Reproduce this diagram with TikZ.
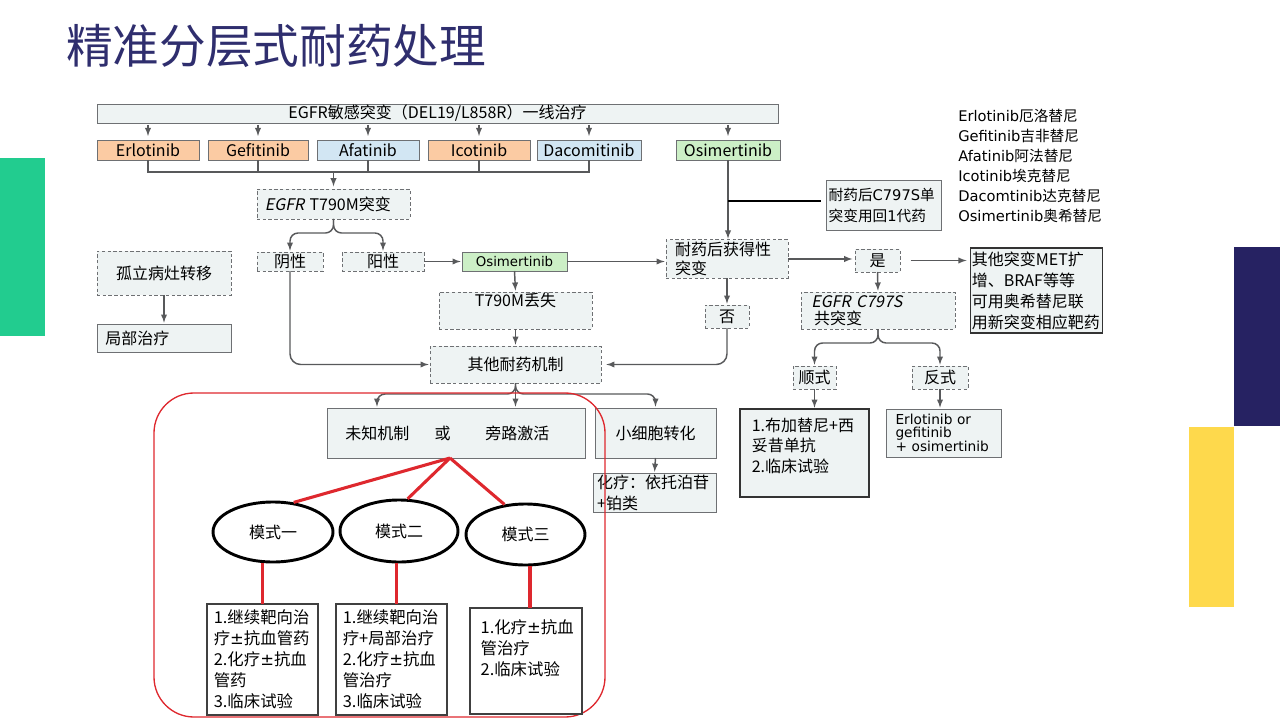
\documentclass[tikz,border=0pt]{standalone}
\usepackage{fontspec}
\setmainfont[AutoFakeSlant=0.2]{Noto Sans CJK SC}
\newfontfamily\dvfont{DejaVu Sans}
\newcommand{\plmi}{{\dvfont ±}}
\usetikzlibrary{arrows,shapes.geometric}

\definecolor{boxgray}{RGB}{238,243,243}
\definecolor{boxline}{RGB}{110,112,115}
\definecolor{linec}{RGB}{88,89,91}
\definecolor{drugorange}{RGB}{251,203,163}
\definecolor{drugblue}{RGB}{210,230,243}
\definecolor{druggreen}{RGB}{204,239,198}
\definecolor{markred}{RGB}{222,40,46}
\definecolor{titlenavy}{RGB}{47,46,110}
\definecolor{barnavy}{RGB}{38,34,98}
\definecolor{bargreen}{RGB}{34,204,143}
\definecolor{baryellow}{RGB}{254,217,76}

\begin{document}
\begin{tikzpicture}[x=0.75pt,y=-0.75pt,
    bsize/.style 2 args={minimum width=#1*0.75pt,minimum height=#2*0.75pt},
    base/.style={rectangle,inner sep=1.5pt,outer sep=0pt,font=\fontsize{12}{15.75}\selectfont},
    sbox/.style={base,draw=boxline,fill=boxgray,line width=0.6pt},
    dbox/.style={base,draw=boxline,fill=boxgray,line width=0.7pt,dash pattern=on 2.5pt off 1.8pt},
    drug/.style={sbox,fill=#1,inner sep=0.5pt},
    kbox/.style={base,draw=black!80,fill=boxgray,line width=1pt},
    wbox/.style={base,draw=black!75,fill=white,line width=0.8pt,font=\fontsize{12.3}{15.75}\selectfont},
    mode/.style={ellipse,draw=black,line width=2.2pt,fill=white,inner sep=0pt,font=\fontsize{12}{14}\selectfont},
    conn/.style={draw=linec,line width=1.1pt},
    arr/.style={conn,-latex,shorten >=1pt},
    redl/.style={draw=markred,line width=2.3pt}]
  \useasboundingbox (0,0) rectangle (1280,720);

  % side bars and title
  \fill[bargreen] (0,158) rectangle (45,336);
  \fill[barnavy] (1234,247) rectangle (1280,426);
  \fill[baryellow] (1189,427) rectangle (1234,607);
  \node[anchor=west,text=titlenavy,font=\fontsize{35}{38}\selectfont,inner sep=0pt] (title) at (66,46) {精准分层式耐药处理};

  % first line
  \node[sbox,bsize={681}{19},inner sep=0.5pt] (first) at (437.5,113.5) {EGFR敏感突变（DEL19/L858R）一线治疗};
  \node[drug=drugorange,bsize={102}{20}] (erl) at (148,150) {Erlotinib};
  \node[drug=drugorange,bsize={100}{20}] (gef) at (258,150) {Gefitinib};
  \node[drug=drugblue,bsize={102}{20}] (afa) at (368,150) {Afatinib};
  \node[drug=drugorange,bsize={102}{20}] (ico) at (479,150) {Icotinib};
  \node[drug=drugblue,bsize={104}{20}] (dac) at (589,150) {Dacomitinib};
  \node[drug=druggreen,bsize={104}{20}] (osi) at (728,150) {Osimertinib};
  \foreach \d in {erl,gef,afa,ico,dac,osi}
    \draw[arr] ([yshift=-1.5pt]first.south -| \d.north) -- ([yshift=2pt]\d.north);
  \draw[conn] (erl.south) -- ++(0,12) -| (dac.south);
  \foreach \d in {gef,afa,ico}
    \draw[conn] (\d.south) -- ++(0,12);

  % T790M branch
  \node[dbox,bsize={153}{30},text width=103pt,align=left] (t790) at (333.5,204) {\textit{EGFR} T790M突变};
  \draw[arr,shorten >=2pt] (t790.north |- erl.south) ++(0,12) -- (t790.north);
  \node[dbox,bsize={66}{19}] (yin) at (290,261.5) {阴性};
  \node[dbox,bsize={82}{19}] (yang) at (383,261.5) {阳性};
  \draw[arr,rounded corners=6pt] (t790.south) -- ++(0,14) -| (yin.north);
  \draw[arr,rounded corners=6pt] (t790.south) -- ++(0,14) -| (yang.north);

  \node[dbox,bsize={134}{44}] (iso) at (164,273) {孤立病灶转移};
  \node[sbox,bsize={134}{28},text width=88pt,align=left] (local) at (164,338) {局部治疗};
  \draw[arr] (iso.south) -- (local.north);

  \node[drug=druggreen,bsize={105}{19},font=\dvfont\fontsize{10}{12}\selectfont] (osi2) at (514.5,261.5) {Osimertinib};
  \draw[arr] (yang.east) -- (osi2.west);
  \node[dbox,bsize={153}{37},text height=9pt,text depth=15.75pt] (loss) at (515.5,310.5) {T790M丢失};
  \draw[arr] (osi2.south) -- (loss.north);
  \node[dbox,bsize={171}{37}] (other) at (515.5,364.5) {其他耐药机制};
  \draw[arr] (loss.south) -- (other.north);
  \draw[arr,rounded corners=8pt] (yin.south) |- (other.west);

  % after osimertinib
  \node[dbox,bsize={122}{38},text width=78pt,align=left,font=\fontsize{12}{14.5}\selectfont] (acq) at (727,259) {耐药后获得性\\突变};
  \draw[arr] (osi2.east) -- (osi2.east -| acq.west);
  \draw[arr] (osi.south) -- (osi.south |- acq.north);
  \node[sbox,bsize={114}{50},text width=83pt,align=left,font=\fontsize{11}{15.75}\selectfont] (single) at (884,205) {耐药后{\dvfont C797S}单\\突变用回{\dvfont 1}代药};
  \draw[black,line width=2pt,shorten >=4pt] ([yshift=3pt]osi.south |- single.west) -- ([yshift=3pt]single.west);

  \node[dbox,bsize={44}{23}] (no) at (727,316.5) {否};
  \draw[arr] (acq.south) -- (no.north);
  \draw[arr,rounded corners=8pt,shorten >=4pt] (no.south) |- (other.east);

  \node[dbox,bsize={45}{23}] (yes) at (877.5,260.5) {是};
  \draw[arr,shorten >=2pt] (acq.east) -- (acq.east -| yes.west);
  \node[kbox,bsize={131}{85},text width=97pt,align=left,inner sep=1pt] (met) at (1036.5,290.5) {其他突变MET扩\\增、BRAF等等\\可用奥希替尼联\\用新突变相应靶药};
  \draw[arr,shorten <=8pt,shorten >=3pt] (yes.east) -- (yes.east -| met.west);

  \node[dbox,bsize={154}{37},text width=100pt,align=left,font=\fontsize{12}{13}\selectfont] (co) at (878,310.5) {\textit{EGFR C797S}\\\hspace{2pt}共突变};
  \draw[arr] (yes.south) -- (co.north);
  \node[dbox,bsize={43}{23}] (cis) at (814.5,377.5) {顺式};
  \node[dbox,bsize={56}{23}] (trans) at (940,377.5) {反式};
  \draw[arr,rounded corners=6pt] (co.south) -- ++(0,14) -| (cis.north);
  \draw[arr,rounded corners=6pt] (co.south) -- ++(0,14) -| (trans.north);
  \node[kbox,bsize={129}{88},text width=79pt,align=left,font=\fontsize{12}{15.5}\selectfont,text height=15pt,text depth=48pt] (bug) at (804.5,453) {1.布加替尼+西\\妥昔单抗\\2.临床试验};
  \draw[arr] (cis.south) -- (cis.south |- bug.north);
  \node[sbox,bsize={115}{48},text width=72pt,align=left,font=\dvfont\fontsize{10.3}{9.8}\selectfont] (comb) at (943.5,433) {Erlotinib or\\gefitinib\\+ osimertinib};
  \draw[arr] (trans.south) -- (trans.south |- comb.north);

  % other resistance mechanisms
  \node[sbox,bsize={258}{50},text width=166pt,align=left] (unk) at (456,433) {未知机制\hspace{19pt}或\hspace{26pt}旁路激活};
  \node[sbox,bsize={121}{50}] (small) at (655.5,433) {小细胞转化};
  \coordinate (unkleft) at (377,408);
  \draw[arr] (other.south) -- (other.south |- unk.north);
  \draw[arr,rounded corners=6pt] (other.south) -- ++(0,11) -| (unkleft);
  \draw[arr,rounded corners=6pt] (other.south) -- ++(0,11) -| (small.north);
  \node[sbox,bsize={123}{38},text width=86pt,align=left] (chemo) at (654.5,493) {化疗：依托泊苷\\+铂类};
  \draw[arr] (small.south) -- (chemo.north);

  % three modes
  \draw[markred,line width=1pt,rounded corners=30pt] (154,393) rectangle (605,717);
  \coordinate (apex) at (450,458);
  \node[mode,bsize={120}{60}] (m1) at (273,532) {模式一};
  \node[mode,bsize={118}{62}] (m2) at (399,531) {模式二};
  \node[mode,bsize={119}{61}] (m3) at (525.5,534.5) {模式三};
  \draw[redl] (apex) -- (m1.55);
  \draw[redl] (apex) -- (m2.75);
  \draw[redl] (apex) -- (m3.125);
  \node[wbox,bsize={111}{111},text width=73pt,align=left] (b1) at (262.5,659.5) {1.继续靶向治\\疗\plmi 抗血管药\\2.化疗\plmi 抗血\\管药\\3.临床试验};
  \node[wbox,bsize={111}{111},text width=73pt,align=left] (b2) at (391.5,659.5) {1.继续靶向治\\疗+局部治疗\\2.化疗\plmi 抗血\\管治疗\\3.临床试验};
  \node[wbox,bsize={112}{106},text width=68pt,align=left,text height=17.25pt,text depth=59.25pt] (b3) at (526,661) {1.化疗\plmi 抗血\\管治疗\\2.临床试验};
  \draw[redl] (b1.north) -- (b1.north |- m1.south);
  \draw[redl] ([xshift=4pt]b2.north) -- ([xshift=4pt]b2.north |- m2.south);
  \draw[redl] ([xshift=3pt]b3.north) -- ([xshift=3pt]b3.north |- m3.south);

  % drug names
  \node[anchor=north west,align=left,inner sep=0pt,font=\fontsize{11}{15}\selectfont] (legend) at (958,109) {{\dvfont Erlotinib}厄洛替尼\\{\dvfont Gefitinib}吉非替尼\\{\dvfont Afatinib}阿法替尼\\{\dvfont Icotinib}埃克替尼\\{\dvfont Dacomtinib}达克替尼\\{\dvfont Osimertinib}奥希替尼};
\end{tikzpicture}
\end{document}
